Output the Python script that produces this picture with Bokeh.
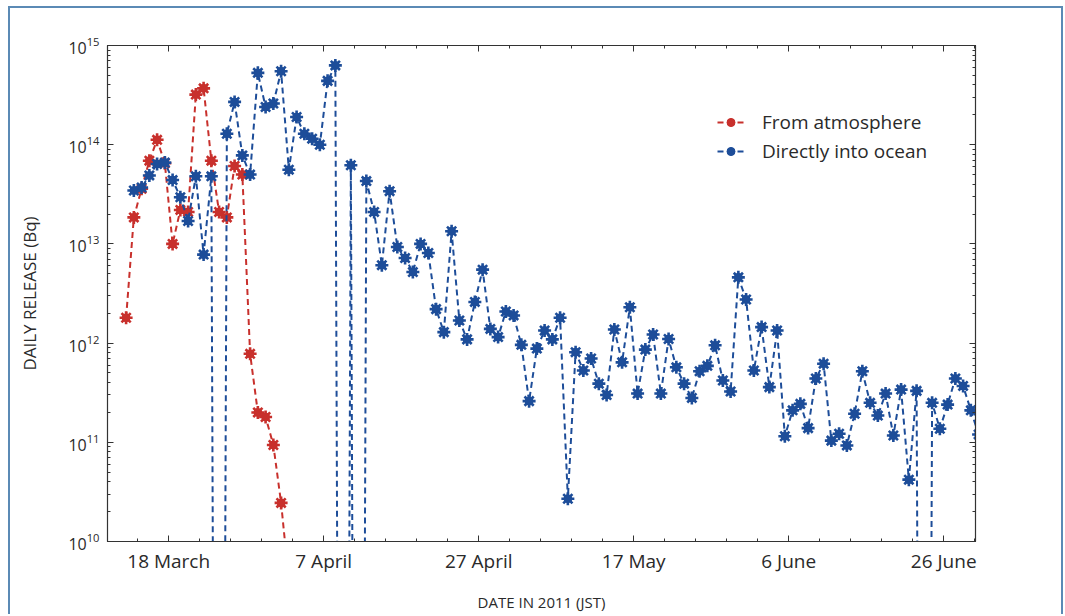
import datetime as dt
from bokeh.plotting import figure
from bokeh.models import (FixedTicker, LogAxis, LinearAxis, Legend, LegendItem,
                          ColumnDataSource, Range1d, LogTicker, CustomJSTickFormatter)
from bokeh.embed import file_html
from bokeh.resources import INLINE

# ---------------- data ----------------
axis_start = "2011-03-10"
axis_end_days = 112.1

red_label = "From atmosphere"
red_start = "2011-03-12"
red_values = [1.8e12, 1.85e13, 3.6e13, 6.9e13, 1.12e14, 6.5e13, 1.0e13, 2.2e13,
              2.1e13, 3.2e14, 3.7e14, 6.9e13, 2.1e13, 1.85e13, 6.1e13, 5.0e13,
              7.8e11, 2.0e11, 1.8e11, 9.4e10, 2.45e10, 4.0e9]

blue_label = "Directly into ocean"
blue_start = "2011-03-13"
blue_march = [3.45e13, 3.7e13, 4.9e13, 6.4e13, 6.6e13, 4.4e13, 2.95e13, 1.7e13,
              4.8e13, 7.8e12, 4.8e13, 1e-6, 1.29e14, 2.7e14, 7.8e13, 5.0e13,
              5.3e14, 2.4e14, 2.6e14]
blue_april = [5.5e14, 5.6e13, 1.9e14, 1.29e14, 1.15e14, 1.0e14, 4.4e14, 6.3e14,
              1e-6, 6.2e13, 1e-6, 4.3e13, 2.1e13, 6.1e12, 3.4e13, 9.3e12,
              7.2e12, 5.2e12, 1.0e13, 8.1e12, 2.2e12, 1.29e12, 1.34e13, 1.69e12,
              1.09e12, 2.6e12, 5.5e12, 1.39e12, 1.15e12, 2.08e12]
blue_may = [1.9e12, 9.6e11, 2.6e11, 8.8e11, 1.34e12, 1.09e12, 1.8e12, 2.7e10,
            8.1e11, 5.3e11, 7.0e11, 3.9e11, 3.0e11, 1.37e12, 6.4e11, 2.3e12,
            3.1e11, 8.6e11, 1.22e12, 3.1e11, 1.1e12, 5.7e11, 3.9e11, 2.8e11,
            5.2e11, 5.9e11, 9.5e11, 4.2e11, 3.25e11, 4.6e12, 2.75e12]
blue_june = [5.3e11, 1.45e12, 3.6e11, 1.34e12, 1.15e11, 2.1e11, 2.44e11, 1.39e11,
             4.4e11, 6.2e11, 1.04e11, 1.22e11, 9.3e10, 1.94e11, 5.2e11, 2.5e11,
             1.86e11, 3.1e11, 1.17e11, 3.4e11, 4.2e10, 3.3e11, 1e-6, 2.5e11,
             1.37e11, 2.4e11, 4.4e11, 3.7e11, 2.1e11, 1.2e11]
blue_values = blue_march + blue_april + blue_may + blue_june

tick_dates = ["2011-03-18", "2011-04-07", "2011-04-27", "2011-05-17", "2011-06-06", "2011-06-26"]
tick_labels = ["18 March", "7 April", "27 April", "17 May", "6 June", "26 June"]
minor_tick_step = 4

# ---------------- helpers ----------------
def day_num(s):
    return (dt.date.fromisoformat(s) - dt.date.fromisoformat(axis_start)).days

red_x = [day_num(red_start) + i + 0.5 for i in range(len(red_values))]
blue_x = [day_num(blue_start) + i + 0.5 for i in range(len(blue_values))]
major_ticks = [day_num(d) for d in tick_dates]
minor_ticks = list(range(minor_tick_step, int(axis_end_days) + 1, minor_tick_step))

red_src = ColumnDataSource(dict(x=red_x, y=red_values))
blue_src = ColumnDataSource(dict(x=blue_x, y=blue_values))

RED = "#c8302c"
BLUE = "#1d4d99"
FONT = "Open Sans"
TXT = "#2a2a2a"
FRAME = "#5b8ab5"

p = figure(width=1055, height=608, y_axis_type="log",
           x_range=Range1d(0.1, axis_end_days), y_range=Range1d(1e10, 1e15),
           output_backend="svg", toolbar_location=None,
           min_border_left=97, min_border_right=90, min_border_top=37, min_border_bottom=75,
           styles={"margin-left": "8px", "margin-top": "6px",
                   "border-top": f"2px solid {FRAME}", "border-left": f"2px solid {FRAME}",
                   "border-right": f"2px solid {FRAME}"})
p.grid.visible = False
p.outline_line_color = "#333333"
p.outline_line_width = 1.2
p.background_fill_color = "white"
p.border_fill_color = "white"

def burst(src, color):
    l = p.line("x", "y", source=src, line_color=color, line_width=2, line_dash="6 4")
    c = p.scatter("x", "y", source=src, marker="circle", size=8, fill_color=color, line_color=color)
    a = p.scatter("x", "y", source=src, marker="asterisk", size=13, line_color=color, line_width=2.6)
    return [l, c, a]

red_r = burst(red_src, RED)
blue_r = burst(blue_src, BLUE)

# axes styling
xt = FixedTicker(ticks=major_ticks, minor_ticks=minor_ticks)
xax = p.xaxis[0]
xax.ticker = xt
xax.major_label_overrides = {t: lab for t, lab in zip(major_ticks, tick_labels)}
yax = p.yaxis[0]
yax.ticker = LogTicker(num_minor_ticks=10)

for ax in (xax, yax):
    ax.axis_line_color = "#333333"
    ax.major_tick_in = 6
    ax.major_tick_out = 0
    ax.minor_tick_in = 3
    ax.minor_tick_out = 0
    ax.major_tick_line_color = "#333333"
    ax.minor_tick_line_color = "#333333"
    ax.major_label_text_font = FONT
    ax.major_label_text_color = TXT
    ax.axis_label_text_font = FONT
    ax.axis_label_text_font_style = "normal"
    ax.axis_label_text_color = TXT

xax.major_label_text_font_size = "19px"
xax.major_label_standoff = 6
xax.axis_label = "DATE IN 2011 (JST)"
xax.axis_label_text_font_size = "15px"
xax.axis_label_standoff = 15
yax.major_label_text_font_size = "16px"
yax.major_label_standoff = 8
yax.axis_label = "DAILY RELEASE (Bq)"
yax.axis_label_text_font_size = "17px"
yax.axis_label_standoff = 24

blank = CustomJSTickFormatter(code="return ''")
top = LinearAxis(ticker=FixedTicker(ticks=major_ticks, minor_ticks=minor_ticks), formatter=blank)
right = LogAxis(ticker=LogTicker(num_minor_ticks=10), formatter=blank)
for ax in (top, right):
    ax.axis_line_color = "#333333"
    ax.major_tick_in = 6
    ax.major_tick_out = 0
    ax.minor_tick_in = 3
    ax.minor_tick_out = 0
    ax.major_tick_line_color = "#333333"
    ax.minor_tick_line_color = "#333333"
    ax.major_label_standoff = 0
p.add_layout(top, "above")
p.add_layout(right, "right")

legend = Legend(items=[LegendItem(label=red_label, renderers=red_r),
                       LegendItem(label=blue_label, renderers=blue_r)],
                location=(610, 377), glyph_width=27, glyph_height=20,
                label_standoff=18, spacing=3, padding=0, margin=0,
                label_text_font=FONT, label_text_font_size="19px", label_text_color=TXT,
                border_line_color=None, background_fill_alpha=0)
p.add_layout(legend)

open("out.html", "w").write(file_html(p, INLINE))
